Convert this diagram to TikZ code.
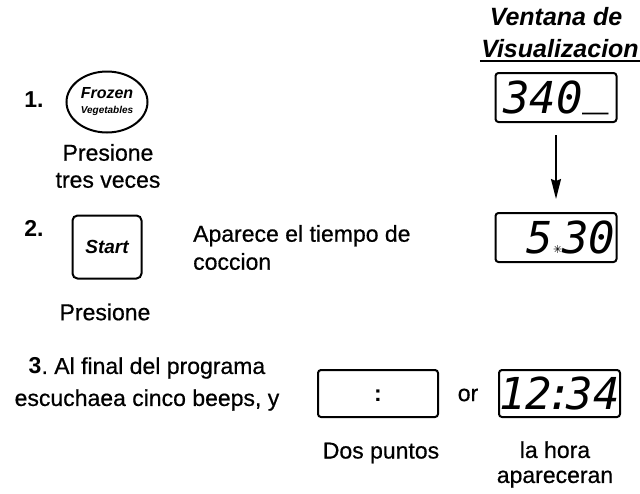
\documentclass[tikz,border=0pt]{standalone}
\usepackage{fontspec}
\setmainfont{Liberation Sans}[UprightFeatures={FakeBold=0.6}]
\newfontfamily\lcdfont{DejaVu Sans Mono}
\newfontfamily\dingfont{DejaVu Sans}
\usetikzlibrary{arrows.meta,shapes.geometric}

\begin{document}
\begin{tikzpicture}[x=1pt,y=-1pt,inner sep=0pt,font=\fontsize{23}{28}\selectfont,
    lcdbox/.style={draw,line width=2pt,rounded corners=3pt,minimum width=121pt,minimum height=49pt,
      text height=32pt,text depth=0pt,font=\lcdfont\itshape\fontsize{44}{44}\selectfont},
    keybox/.style={draw,line width=2pt,font=\bfseries\itshape},
    stepnum/.style={font=\bfseries\fontsize{23}{28}\selectfont}]
    \useasboundingbox[fill=white] (0,0) rectangle (640,493);
    % display window heading
    \node[font=\bfseries\itshape\fontsize{25}{25}\selectfont] (head) at (556,17) {Ventana de};
    \node[font=\bfseries\itshape\fontsize{25}{25}\selectfont,anchor=base,minimum width=160pt] (vis) at (560,57) {Visualizacion};
    \draw[line width=1.6pt] ([yshift=-4pt]vis.base west) -- ([yshift=-4pt]vis.base east);
    % step 1
    \node[stepnum] (one) at (34,100) {1.};
    \node[keybox,ellipse,minimum width=81pt,minimum height=61pt,align=center] (frozen) at (107,102)
      {{\fontsize{16}{16}\selectfont Frozen}\\[3pt]{\fontsize{10}{10}\selectfont Vegetables}};
    \node[align=center] (press1) at (108,166) {Presione\\[-1pt]tres veces};
    \node[lcdbox] (disp1) at (556,97.5) {340\raisebox{0.2em}{\_}};
    % step 2
    \node[stepnum] (two) at (34,228) {2.};
    \node[keybox,rounded corners=5pt,minimum width=69pt,minimum height=63pt,font=\bfseries\itshape\fontsize{19}{19}\selectfont] (start) at (107,247) {Start};
    \node[align=left,anchor=west] (appear) at (193,247.5) {Aparece el tiempo de\\coccion};
    \node (press2) at (105,312) {Presione};
    \node[lcdbox] (disp2) at (556,237.5)
      {\hspace*{30pt}5{\dingfont\upshape\fontsize{11}{11}\selectfont ✳}30};
    \draw[-{Stealth[length=20pt,width=10pt,inset=2pt]},line width=1.5pt,shorten <=12pt,shorten >=13pt] (disp1) -- (disp2);
    % step 3
    \node[align=center] (three) at (147,384) {\textbf{3}.\ Al final del programa\\[4pt]escuchaea cinco beeps, y};
    \node[lcdbox,minimum height=47pt,minimum width=120pt,text height=15pt,font=\bfseries\fontsize{23}{23}\selectfont] (colon) at (378,393.5) {:};
    \node (or) at (468,395) {or};
    \node[lcdbox,minimum height=47pt] (disp3) at (559.5,393.5) {12\kern-6pt:\kern-6pt34};
    \node (dots) at (381,453) {Dos puntos};
    \node[align=center] (clock) at (555,464.5) {la hora\\[-3pt]apareceran};
\end{tikzpicture}
\end{document}
